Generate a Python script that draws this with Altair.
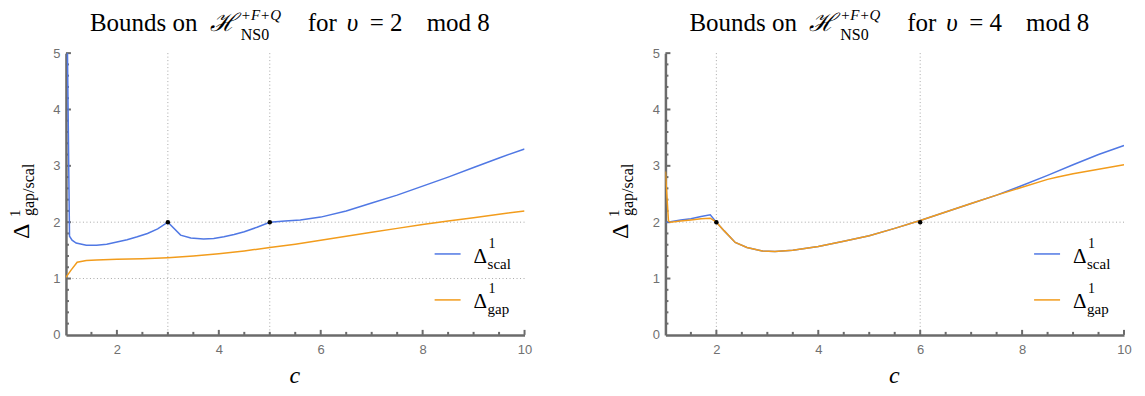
import altair as alt
import pandas as pd

# ---------------- data ----------------
# left panel (v = 2 mod 8)
L_SCAL_C = [1.03, 1.07, 1.12, 1.2, 1.4, 1.6, 1.8, 2.0, 2.2, 2.4, 2.6, 2.8, 3.0, 3.25, 3.45,
            3.7, 3.9, 4.1, 4.3, 4.5, 4.75, 5.0, 5.3, 5.6, 6.0, 6.5, 7.0, 7.5, 8.0, 8.5, 9.0, 9.5, 10.0]
L_SCAL_V = [5.0, 1.75, 1.68, 1.63, 1.59, 1.59, 1.61, 1.65, 1.69, 1.74, 1.80, 1.88, 2.0, 1.77, 1.72,
            1.70, 1.71, 1.74, 1.78, 1.83, 1.91, 2.0, 2.02, 2.04, 2.09, 2.2, 2.34, 2.48, 2.64, 2.8, 2.97, 3.14, 3.30]
L_GAP_C = [1.0, 1.1, 1.22, 1.4, 1.6, 2.0, 2.5, 3.0, 3.5, 4.0, 4.5, 5.0, 5.5, 6.0, 6.5, 7.0, 7.5,
           8.0, 8.5, 9.0, 9.5, 10.0]
L_GAP_V = [1.02, 1.15, 1.29, 1.32, 1.33, 1.34, 1.35, 1.37, 1.40, 1.44, 1.49, 1.55, 1.61, 1.68, 1.75,
           1.82, 1.89, 1.96, 2.02, 2.08, 2.14, 2.20]
L_GRID_X = [3, 5]
L_GRID_Y = [1, 2]
L_PTS_C = [3, 5]
L_PTS_V = [2, 2]

# right panel (v = 4 mod 8)
R_SCAL_C = [1.02, 1.1, 1.3, 1.5, 1.7, 1.88, 2.0, 2.15, 2.37, 2.6, 2.9, 3.15, 3.5, 4.0, 4.5, 5.0,
            5.5, 6.0, 6.5, 7.0, 7.5, 8.0, 8.5, 9.0, 9.5, 10.0]
R_SCAL_V = [2.0, 2.01, 2.04, 2.06, 2.10, 2.13, 2.0, 1.85, 1.64, 1.55, 1.49, 1.48, 1.50, 1.57, 1.66,
            1.76, 1.89, 2.03, 2.18, 2.33, 2.48, 2.65, 2.83, 3.02, 3.20, 3.36]
R_GAP_C = [1.0, 1.06, 1.1, 1.3, 1.5, 1.7, 1.88, 2.0, 2.15, 2.37, 2.6, 2.9, 3.15, 3.5, 4.0, 4.5, 5.0,
           5.5, 6.0, 6.5, 7.0, 7.5, 8.0, 8.5, 8.7, 9.0, 9.5, 10.0]
R_GAP_V = [2.9, 2.02, 2.0, 2.02, 2.04, 2.06, 2.07, 2.0, 1.85, 1.64, 1.55, 1.49, 1.48, 1.50, 1.57,
           1.66, 1.76, 1.89, 2.03, 2.18, 2.33, 2.48, 2.62, 2.76, 2.80, 2.86, 2.94, 3.02]
R_GRID_X = [2, 6]
R_GRID_Y = [2]
R_PTS_C = [2, 6]
R_PTS_V = [2, 2]

X_MAJOR = [2, 4, 6, 8, 10]
X_MINOR = [1.5, 2.5, 3, 3.5, 4.5, 5, 5.5, 6.5, 7, 7.5, 8.5, 9, 9.5]
Y_LABELS = [0, 1, 2, 3, 4, 5]
Y_MAJOR = [1, 2, 3, 4, 5]
Y_MINOR = [0.2, 0.4, 0.6, 0.8, 1.2, 1.4, 1.6, 1.8, 2.2, 2.4, 2.6, 2.8,
           3.2, 3.4, 3.6, 3.8, 4.2, 4.4, 4.6, 4.8]

# ---------------- style ----------------
BLUE = "#5078e4"
ORANGE = "#f29c1c"
GRAY = "#6b6b6b"
LABEL = "#707070"
GRID = "#a8a8a8"
SERIF = "Liberation Serif, DejaVu Serif, serif"
SANS = "Liberation Sans"
W, H = 459, 282

XS = alt.Scale(domain=[1, 10], nice=False, zero=False)
YS = alt.Scale(domain=[0, 5], nice=False, zero=False)
X_AXIS = alt.Axis(values=X_MAJOR, title=None, ticks=False, grid=False, domainColor=GRAY,
                  domainWidth=2.5, labelColor=LABEL, labelFont=SANS, labelFontSize=13,
                  labelPadding=9, labelFlush=False)
Y_AXIS = alt.Axis(values=Y_LABELS, title=None, ticks=False, grid=False, domainColor=GRAY,
                  domainWidth=2.5, labelColor=LABEL, labelFont=SANS, labelFontSize=13,
                  labelPadding=6, labelFlush=False)
ONE = alt.Data(values=[{"k": 0}])


def txt(s, x, y, size, italic=False, angle=0, align="left"):
    return alt.Chart(ONE).mark_text(
        text=s, fontSize=size, font=SERIF, fontStyle="italic" if italic else "normal",
        align=align, baseline="alphabetic", angle=angle, color="black"
    ).encode(x=alt.value(x), y=alt.value(y))


def line(cs, vs, color):
    df = pd.DataFrame({"c": cs, "v": vs, "o": range(len(cs))})
    return alt.Chart(df).mark_line(color=color, strokeWidth=1.5, clip=True).encode(
        x=alt.X("c:Q", scale=XS, axis=X_AXIS),
        y=alt.Y("v:Q", scale=YS, axis=Y_AXIS),
        order="o:Q",
    )


def panel(scal_c, scal_v, gap_c, gap_v, grid_x, grid_y, pts_c, pts_v, modv):
    gx = alt.Chart(pd.DataFrame({"c": grid_x})).mark_rule(
        color=GRID, strokeDash=[1, 2.5], strokeWidth=1).encode(
        x=alt.X("c:Q", scale=XS, axis=X_AXIS))
    gy = alt.Chart(pd.DataFrame({"v": grid_y})).mark_rule(
        color=GRID, strokeDash=[1, 2.5], strokeWidth=1).encode(
        y=alt.Y("v:Q", scale=YS, axis=Y_AXIS))
    txm = alt.Chart(pd.DataFrame({"c": X_MAJOR})).mark_rule(color=GRAY, strokeWidth=2).encode(
        x=alt.X("c:Q", scale=XS, axis=X_AXIS), y=alt.value(H), y2=alt.value(H - 5))
    txn = alt.Chart(pd.DataFrame({"c": X_MINOR})).mark_rule(color=GRAY, strokeWidth=2).encode(
        x=alt.X("c:Q", scale=XS, axis=X_AXIS), y=alt.value(H), y2=alt.value(H - 3))
    tym = alt.Chart(pd.DataFrame({"v": Y_MAJOR})).mark_rule(color=GRAY, strokeWidth=2).encode(
        y=alt.Y("v:Q", scale=YS, axis=Y_AXIS), x=alt.value(0), x2=alt.value(5))
    tyn = alt.Chart(pd.DataFrame({"v": Y_MINOR})).mark_rule(color=GRAY, strokeWidth=2).encode(
        y=alt.Y("v:Q", scale=YS, axis=Y_AXIS), x=alt.value(0), x2=alt.value(3))
    pts = alt.Chart(pd.DataFrame({"c": pts_c, "v": pts_v})).mark_circle(
        color="black", size=20, opacity=1).encode(
        x=alt.X("c:Q", scale=XS, axis=X_AXIS), y=alt.Y("v:Q", scale=YS, axis=Y_AXIS))

    leg = [
        alt.Chart(ONE).mark_rule(color=BLUE, strokeWidth=1.5).encode(
            x=alt.value(369), x2=alt.value(395), y=alt.value(201)),
        txt("Δ", 408, 210, 21), txt("1", 423, 195, 14), txt("scal", 422, 216, 15),
        alt.Chart(ONE).mark_rule(color=ORANGE, strokeWidth=1.5).encode(
            x=alt.value(369), x2=alt.value(395), y=alt.value(247)),
        txt("Δ", 408, 255, 21), txt("1", 423, 240, 14), txt("gap", 422, 261, 15),
    ]
    title = [
        txt("Bounds on", 24, -22, 25),
        txt("ℋ", 157, -22, 25, italic=True, align="center"),
        txt("+F+Q", 175, -33, 15, italic=True),
        txt("NS0", 175, -13, 16),
        txt("for", 242, -22, 25),
        txt("υ", 281, -22, 25, italic=True),
        txt("= " + str(modv), 304, -22, 25),
        txt("mod 8", 361, -22, 25),
    ]
    ytitle = [
        txt("Δ", -37, 186, 24, angle=270),
        txt("1", -46, 164, 15, angle=270),
        txt("gap/scal", -32, 163, 16, angle=270),
    ]
    xtitle = [txt("c", 229, 330, 24, italic=True, align="center")]

    layers = [gx, gy, txm, txn, tym, tyn,
              line(scal_c, scal_v, BLUE), line(gap_c, gap_v, ORANGE), pts] + leg + title + ytitle + xtitle
    return alt.layer(*layers).properties(width=W, height=H)


left = panel(L_SCAL_C, L_SCAL_V, L_GAP_C, L_GAP_V, L_GRID_X, L_GRID_Y, L_PTS_C, L_PTS_V, 2)
right = panel(R_SCAL_C, R_SCAL_V, R_GAP_C, R_GAP_V, R_GRID_X, R_GRID_Y, R_PTS_C, R_PTS_V, 4)

chart = alt.hconcat(left, right, spacing=141, bounds="flush").properties(
    padding={"left": 0, "top": 0, "right": 5, "bottom": 5}
).configure_view(stroke=None)

chart.save("out.html", embed_options={"renderer": "svg", "actions": False})
